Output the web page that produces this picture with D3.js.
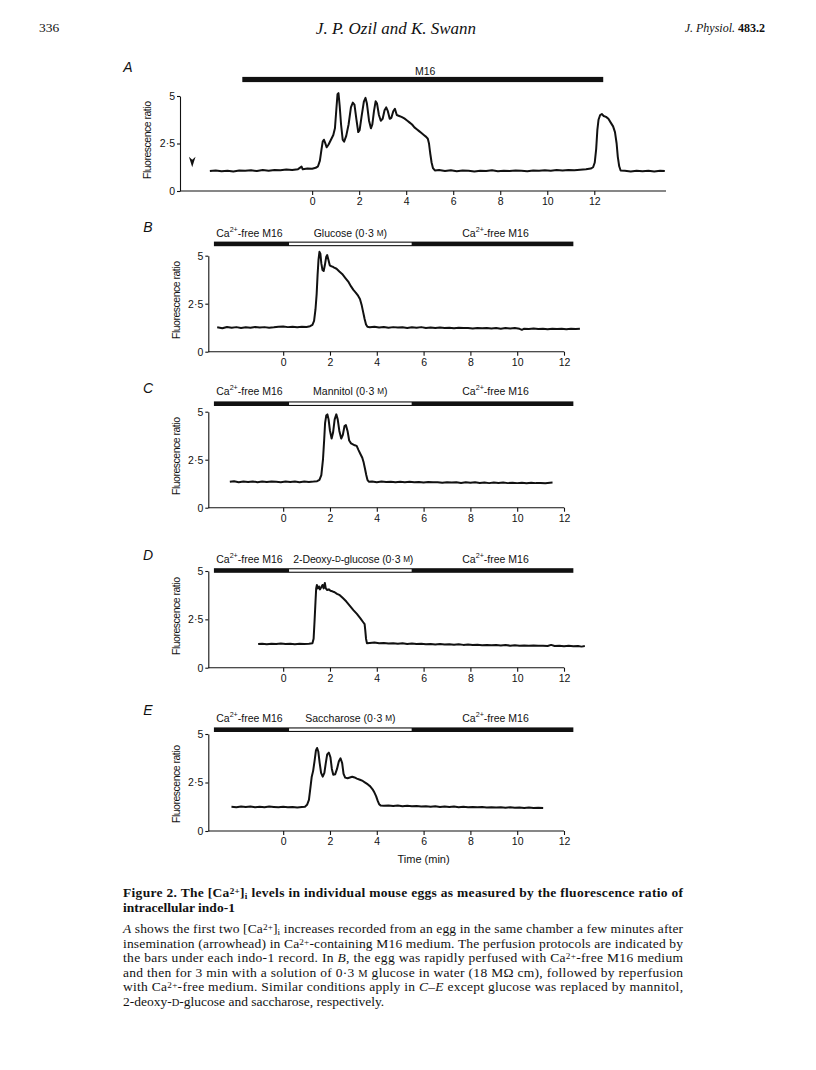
<!DOCTYPE html>
<html><head><meta charset="utf-8">
<script src="https://cdn.jsdelivr.net/npm/d3@7"></script>
<style>
body{margin:0;background:#fff;}
svg{display:block;}
</style></head><body>
<svg id="fig" width="816" height="1070"></svg>
<script>
// ---------------- data ----------------
const minuteTicks=[0,2,4,6,8,10,12];
const ratioTicks=[0,2.5,5];
const panelLetters=["A","B","C","D","E"];
const solutionNames=["Glucose","Mannitol","2-Deoxy-D-glucose","Saccharose"];
const barA=[-2.97,12.38];                 // M16 perfusion (min)
const barSegments=[-2.96,0.25,5.49,12.4]; // Ca-free | test solution | Ca-free (min)
const arrowheadA=[-5.1,1.25];             // insemination marker (min, ratio)

const traceA=[[-4.35,1.05],[-4.1,1.08],[-3.85,1.04],[-3.6,1.07],[-3.35,1.03],[-3.1,1.08],[-2.85,1.06],[-2.6,1.09],[-2.35,1.05],[-2.1,1.1],[-1.85,1.07],[-1.6,1.11],[-1.35,1.09],[-1.1,1.13],[-0.85,1.1],[-0.6,1.15],[-0.45,1.28],[-0.4,1.14],[-0.2,1.18],[0.0,1.17],[0.15,1.22],[0.25,1.3],[0.33,1.6],[0.4,2.2],[0.45,2.6],[0.5,2.7],[0.55,2.55],[0.62,2.3],[0.7,2.45],[0.8,2.7],[0.9,2.95],[0.97,3.3],[1.03,4.3],[1.08,5.1],[1.12,5.15],[1.17,4.5],[1.23,3.5],[1.3,2.7],[1.36,2.6],[1.45,2.9],[1.55,3.5],[1.65,4.4],[1.73,4.65],[1.8,4.55],[1.88,3.8],[1.96,3.1],[2.02,3.2],[2.1,3.9],[2.2,4.7],[2.27,4.9],[2.33,4.6],[2.42,3.7],[2.5,3.3],[2.56,3.5],[2.63,4.2],[2.7,4.72],[2.76,4.6],[2.84,4.0],[2.92,3.7],[3.0,3.8],[3.08,4.25],[3.15,4.4],[3.22,4.2],[3.3,3.8],[3.37,3.85],[3.45,4.2],[3.52,4.33],[3.6,4.0],[3.7,3.95],[3.8,3.9],[3.92,3.82],[4.05,3.7],[4.15,3.6],[4.25,3.5],[4.35,3.35],[4.45,3.25],[4.55,3.15],[4.65,3.05],[4.75,2.95],[4.85,2.85],[4.92,2.75],[4.97,2.5],[5.02,2.0],[5.08,1.5],[5.14,1.2],[5.22,1.08],[5.4,1.1],[5.65,1.05],[5.9,1.09],[6.15,1.04],[6.4,1.08],[6.65,1.06],[6.9,1.03],[7.15,1.07],[7.4,1.05],[7.65,1.09],[7.9,1.04],[8.15,1.07],[8.4,1.05],[8.65,1.08],[8.9,1.06],[9.15,1.04],[9.4,1.08],[9.65,1.06],[9.9,1.09],[10.15,1.07],[10.4,1.1],[10.65,1.08],[10.9,1.11],[11.15,1.09],[11.4,1.12],[11.65,1.14],[11.85,1.18],[11.95,1.25],[12.02,1.5],[12.08,2.2],[12.13,3.2],[12.18,3.75],[12.25,4.0],[12.32,4.05],[12.4,3.95],[12.5,3.9],[12.6,3.8],[12.7,3.6],[12.8,3.4],[12.88,3.1],[12.95,2.5],[13.0,1.8],[13.06,1.3],[13.12,1.08],[13.3,1.06],[13.55,1.03],[13.8,1.07],[14.05,1.04],[14.3,1.06],[14.55,1.03],[14.8,1.07],[15.0,1.05]];

const traceB=[[-2.82,1.27],[-2.6,1.22],[-2.4,1.29],[-2.2,1.25],[-2.0,1.28],[-1.8,1.24],[-1.6,1.27],[-1.4,1.25],[-1.2,1.29],[-1.0,1.26],[-0.8,1.28],[-0.6,1.25],[-0.4,1.27],[-0.2,1.3],[0.0,1.31],[0.2,1.28],[0.4,1.3],[0.6,1.27],[0.8,1.3],[1.0,1.29],[1.15,1.33],[1.25,1.4],[1.32,1.6],[1.38,2.2],[1.43,3.0],[1.47,4.0],[1.51,4.8],[1.55,5.2],[1.59,5.1],[1.63,4.6],[1.68,4.25],[1.73,4.2],[1.78,4.5],[1.84,4.95],[1.88,5.03],[1.93,4.8],[1.99,4.5],[2.05,4.45],[2.11,4.43],[2.18,4.38],[2.28,4.32],[2.4,4.18],[2.52,4.05],[2.65,3.85],[2.78,3.65],[2.9,3.4],[3.0,3.22],[3.1,3.08],[3.2,2.92],[3.28,2.75],[3.35,2.45],[3.42,2.05],[3.48,1.7],[3.54,1.42],[3.6,1.3],[3.7,1.27],[3.9,1.3],[4.1,1.26],[4.3,1.29],[4.5,1.25],[4.7,1.28],[4.9,1.26],[5.1,1.27],[5.3,1.24],[5.5,1.27],[5.7,1.25],[5.9,1.28],[6.1,1.24],[6.3,1.26],[6.5,1.23],[6.7,1.26],[6.9,1.24],[7.1,1.25],[7.3,1.22],[7.5,1.25],[7.7,1.23],[7.9,1.24],[8.1,1.21],[8.3,1.24],[8.5,1.22],[8.7,1.24],[8.9,1.21],[9.1,1.23],[9.3,1.2],[9.5,1.23],[9.7,1.21],[9.9,1.23],[10.1,1.19],[10.2,1.14],[10.3,1.2],[10.5,1.18],[10.7,1.21],[10.9,1.18],[11.1,1.2],[11.3,1.17],[11.5,1.2],[11.7,1.18],[11.9,1.19],[12.1,1.17],[12.3,1.2],[12.5,1.18],[12.68,1.2]];

const traceC=[[-2.28,1.35],[-2.1,1.38],[-1.9,1.33],[-1.7,1.36],[-1.5,1.34],[-1.3,1.37],[-1.1,1.33],[-0.9,1.36],[-0.7,1.34],[-0.5,1.37],[-0.3,1.35],[-0.1,1.33],[0.1,1.36],[0.3,1.34],[0.5,1.36],[0.7,1.33],[0.9,1.36],[1.1,1.34],[1.3,1.36],[1.45,1.38],[1.55,1.45],[1.63,1.7],[1.7,2.5],[1.75,3.5],[1.79,4.4],[1.84,4.8],[1.89,4.86],[1.94,4.6],[2.0,4.0],[2.07,3.6],[2.13,3.9],[2.2,4.6],[2.27,4.86],[2.33,4.6],[2.4,4.0],[2.48,3.6],[2.55,3.8],[2.62,4.25],[2.68,4.3],[2.75,4.0],[2.82,3.5],[2.9,3.35],[2.98,3.3],[3.06,3.25],[3.14,3.22],[3.22,3.0],[3.3,2.8],[3.38,2.6],[3.44,2.35],[3.5,2.0],[3.55,1.7],[3.6,1.45],[3.66,1.35],[3.8,1.37],[4.0,1.33],[4.2,1.36],[4.4,1.34],[4.6,1.35],[4.8,1.32],[5.0,1.35],[5.2,1.33],[5.4,1.35],[5.6,1.32],[5.8,1.34],[6.0,1.31],[6.2,1.34],[6.4,1.32],[6.6,1.33],[6.8,1.3],[7.0,1.33],[7.2,1.31],[7.4,1.32],[7.6,1.29],[7.8,1.32],[8.0,1.3],[8.2,1.32],[8.4,1.29],[8.6,1.31],[8.8,1.28],[9.0,1.31],[9.2,1.29],[9.4,1.31],[9.6,1.28],[9.8,1.3],[10.0,1.28],[10.2,1.3],[10.4,1.27],[10.6,1.3],[10.8,1.28],[11.0,1.29],[11.2,1.27],[11.4,1.3],[11.51,1.31]];

const traceD=[[-1.07,1.22],[-0.9,1.24],[-0.7,1.21],[-0.5,1.24],[-0.3,1.22],[-0.1,1.25],[0.1,1.22],[0.3,1.24],[0.5,1.21],[0.7,1.24],[0.9,1.22],[1.1,1.24],[1.25,1.26],[1.3,1.5],[1.34,2.4],[1.38,3.4],[1.41,4.1],[1.44,4.28],[1.48,4.1],[1.53,4.2],[1.57,4.05],[1.62,4.15],[1.68,4.28],[1.73,4.1],[1.78,4.38],[1.82,4.1],[1.88,4.02],[1.95,4.05],[2.02,3.98],[2.1,3.95],[2.2,3.9],[2.3,3.82],[2.42,3.75],[2.55,3.6],[2.7,3.42],[2.85,3.2],[3.0,2.98],[3.15,2.78],[3.3,2.55],[3.42,2.35],[3.48,2.25],[3.51,1.9],[3.54,1.5],[3.58,1.26],[3.7,1.28],[3.9,1.3],[4.1,1.26],[4.3,1.28],[4.5,1.25],[4.7,1.27],[4.9,1.24],[5.1,1.26],[5.3,1.23],[5.5,1.25],[5.7,1.22],[5.9,1.24],[6.1,1.21],[6.3,1.23],[6.5,1.2],[6.7,1.22],[6.9,1.2],[7.1,1.21],[7.3,1.19],[7.5,1.21],[7.7,1.18],[7.9,1.2],[8.1,1.17],[8.3,1.19],[8.5,1.16],[8.7,1.18],[8.9,1.16],[9.1,1.17],[9.3,1.15],[9.5,1.17],[9.7,1.14],[9.9,1.16],[10.1,1.14],[10.3,1.15],[10.5,1.13],[10.7,1.15],[10.9,1.13],[11.1,1.14],[11.3,1.12],[11.45,1.18],[11.6,1.12],[11.8,1.14],[12.0,1.11],[12.2,1.13],[12.4,1.11],[12.6,1.12],[12.75,1.09],[12.89,1.12]];

const traceE=[[-2.21,1.25],[-2.0,1.23],[-1.8,1.26],[-1.6,1.24],[-1.4,1.26],[-1.2,1.23],[-1.0,1.25],[-0.8,1.23],[-0.6,1.26],[-0.4,1.24],[-0.2,1.22],[0.0,1.25],[0.2,1.22],[0.4,1.24],[0.6,1.21],[0.8,1.24],[0.93,1.25],[1.02,1.35],[1.1,1.6],[1.16,2.2],[1.22,2.8],[1.28,3.1],[1.34,3.6],[1.4,4.15],[1.45,4.28],[1.5,4.1],[1.56,3.5],[1.62,3.0],[1.69,2.8],[1.76,3.0],[1.82,3.5],[1.88,3.95],[1.95,4.04],[2.02,3.8],[2.08,3.2],[2.14,2.9],[2.22,2.92],[2.3,3.2],[2.38,3.6],[2.45,3.75],[2.52,3.5],[2.58,2.95],[2.65,2.75],[2.75,2.72],[2.85,2.76],[2.95,2.8],[3.05,2.76],[3.15,2.7],[3.28,2.64],[3.4,2.58],[3.52,2.48],[3.62,2.4],[3.72,2.3],[3.82,2.15],[3.9,1.98],[3.97,1.8],[4.04,1.55],[4.1,1.38],[4.16,1.32],[4.3,1.3],[4.5,1.32],[4.7,1.29],[4.9,1.31],[5.1,1.28],[5.3,1.3],[5.5,1.27],[5.7,1.29],[5.9,1.26],[6.1,1.28],[6.3,1.25],[6.5,1.27],[6.7,1.24],[6.9,1.26],[7.1,1.24],[7.3,1.26],[7.5,1.23],[7.7,1.25],[7.9,1.23],[8.1,1.24],[8.3,1.22],[8.5,1.24],[8.7,1.21],[8.9,1.23],[9.1,1.21],[9.3,1.22],[9.5,1.2],[9.7,1.22],[9.9,1.2],[10.1,1.21],[10.3,1.19],[10.5,1.21],[10.7,1.18],[10.9,1.2],[11.11,1.19]];

// ---------------- drawing ----------------
const svg=d3.select("#fig");
const SANS="'Liberation Sans', Arial, Helvetica, sans-serif";
const SERIF="'Liberation Serif','Times New Roman',serif";
svg.append("rect").attr("width",816).attr("height",1070).attr("fill","#fff");

// rich text helper: parts = [{t, sup, sub, i, b, sc}]
function rich(g,x,y,parts,o){
  o=o||{};
  const t=g.append("text").attr("x",x).attr("y",y)
    .attr("font-family",o.family||SANS).attr("font-size",o.size||11)
    .attr("fill","#111");
  if(o.anchor) t.attr("text-anchor",o.anchor);
  if(o.bold) t.attr("font-weight","bold");
  if(o.italic) t.attr("font-style","italic");
  if(o.len) t.attr("textLength",o.len).attr("lengthAdjust","spacing");
  if(o.transform) t.attr("transform",o.transform);
  if(o.baseline) t.attr("dominant-baseline",o.baseline);
  parts.forEach(p=>{
    if(typeof p==="string") p={t:p};
    const s=t.append("tspan").text(p.t);
    if(p.sup) s.attr("baseline-shift","38%").attr("font-size","68%");
    if(p.sub) s.attr("baseline-shift","-22%").attr("font-size","68%");
    if(p.sc) s.attr("font-size","78%");
    if(p.i) s.attr("font-style","italic");
    if(p.b) s.attr("font-weight","bold");
  });
  return t;
}
const fmtRatio=d=>d===2.5?"2·5":String(d);

const panels=[
 {data:traceA, xd:[-5.62,15.05], xr:[180,666], yr:[191,96], bar:79.5, lab:71, letter:[128,67], ylab:[150.5,140]},
 {data:traceB, xd:[-3.2,12], xr:[208.3,564], yr:[351.7,255.7], bar:243.9, lab:233.3, letter:[148,227], ylab:[179.5,300], sol:0},
 {data:traceC, xd:[-3.2,12], xr:[208.3,564], yr:[507.7,411.7], bar:403.7, lab:391, letter:[148,388], ylab:[179.5,456], sol:1},
 {data:traceD, xd:[-3.2,12], xr:[208.3,564], yr:[667.7,571], bar:570.5, lab:559, letter:[148,555], ylab:[179.5,616], sol:2},
 {data:traceE, xd:[-3.2,12], xr:[208.3,564], yr:[831,734], bar:729.7, lab:718.3, letter:[148,710], ylab:[179.5,784], sol:3}
];

panels.forEach((p,i)=>{
  const g=svg.append("g");
  const x=d3.scaleLinear().domain(p.xd).range(p.xr);
  const y=d3.scaleLinear().domain([0,5]).range(p.yr);

  // axes
  const ax=g.append("g").attr("transform",`translate(0,${p.yr[0]})`)
    .call(d3.axisBottom(x).tickValues(minuteTicks).tickSize(4).tickSizeOuter(0).tickPadding(3).tickFormat(d=>d));
  const ay=g.append("g").attr("transform",`translate(${p.xr[0]},0)`)
    .call(d3.axisLeft(y).tickValues(ratioTicks).tickSize(3).tickSizeOuter(0).tickPadding(2).tickFormat(fmtRatio));
  [ax,ay].forEach(a=>{
    a.attr("font-family",SANS).attr("font-size",10.5);
    a.selectAll("path,line").attr("stroke","#111").attr("stroke-width",1.1);
    a.selectAll("text").attr("fill","#111");
  });
  ax.select(".domain").attr("d",`M${p.xr[0]},0H${p.xr[1]}`);

  // y label
  rich(g,p.ylab[0],p.ylab[1],["Fluorescence ratio"],{size:10.5,anchor:"middle",len:78,
    transform:`rotate(-90,${p.ylab[0]},${p.ylab[1]})`});

  // panel letter
  rich(g,p.letter[0],p.letter[1],[panelLetters[i]],{size:14,italic:true,anchor:"middle",baseline:"central"});

  // perfusion bars
  if(i===0){
    g.append("rect").attr("x",x(barA[0])).attr("width",x(barA[1])-x(barA[0]))
      .attr("y",p.bar-2.6).attr("height",5.2).attr("fill","#111");
    rich(g,x((barA[0]+barA[1])/2+0.1),p.lab,["M16"],{size:10.5,anchor:"middle",baseline:"central"});
    // arrowhead
    const ax0=x(arrowheadA[0]), ay0=y(arrowheadA[1]);
    g.append("path").attr("d",`M${ax0-3.3},${ay0-10.5}L${ax0},${ay0-7.5}L${ax0+3.3},${ay0-10.5}L${ax0},${ay0}Z`).attr("fill","#111");
  } else {
    const b=barSegments;
    g.append("rect").attr("x",x(b[0])).attr("width",x(b[3])-x(b[0]))
      .attr("y",p.bar-2.3).attr("height",4.6).attr("fill","#111");
    g.append("rect").attr("x",x(b[1])).attr("width",x(b[2])-x(b[1]))
      .attr("y",p.bar-1.2).attr("height",2.4).attr("fill","#fff");
    const caFree=["Ca",{t:"2+",sup:true},"-free M16"];
    rich(g,x((b[0]+b[1])/2)-2,p.lab,caFree,{size:10.5,anchor:"middle",baseline:"central"});
    rich(g,x((b[2]+b[3])/2)+3,p.lab,caFree,{size:10.5,anchor:"middle",baseline:"central"});
    let mid;
    const name=solutionNames[p.sol];
    if(name==="2-Deoxy-D-glucose") mid=["2-Deoxy-",{t:"D",sc:true},"-glucose (0·3 ",{t:"M",sc:true},")"];
    else mid=[name+" (0·3 ",{t:"M",sc:true},")"];
    rich(g,x((b[1]+b[2])/2)+(p.sol===2?3:0),p.lab,mid,{size:10.5,anchor:"middle",baseline:"central",len:p.sol===2?120:null});
  }

  // trace
  g.append("path").datum(p.data)
    .attr("d",d3.line().x(d=>x(d[0])).y(d=>y(d[1])))
    .attr("fill","none").attr("stroke","#111").attr("stroke-width",2)
    .attr("stroke-linejoin","round");

  if(i===4){
    rich(g,x(6),859,["Time (min)"],{size:11,anchor:"middle",baseline:"central"});
  }
});

// ---------------- page header ----------------
rich(svg,39,32,["336"],{family:SERIF,size:13.5});
rich(svg,396,34,["J. P. Ozil and K. Swann"],{family:SERIF,size:17,italic:true,anchor:"middle"});
rich(svg,765,32,[{t:"J. Physiol. ",i:true},{t:"483.2",b:true}],{family:SERIF,size:12,anchor:"end"});

// ---------------- caption ----------------
const capL=123, capW=560;
const capSize=13.5;
rich(svg,capL,897,["Figure 2. The [Ca",{t:"2+",sup:true},"]",{t:"i",sub:true}," levels in individual mouse eggs as measured by the fluorescence ratio of"],
  {family:SERIF,size:capSize,bold:true,len:capW});
rich(svg,capL,912,["intracellular indo-1"],{family:SERIF,size:capSize,bold:true});
const body=[
 [{t:"A",i:true}," shows the first two [Ca",{t:"2+",sup:true},"]",{t:"i",sub:true}," increases recorded from an egg in the same chamber a few minutes after"],
 ["insemination (arrowhead) in Ca",{t:"2+",sup:true},"-containing M16 medium. The perfusion protocols are indicated by"],
 ["the bars under each indo-1 record. In ",{t:"B",i:true},", the egg was rapidly perfused with Ca",{t:"2+",sup:true},"-free M16 medium"],
 ["and then for 3 min with a solution of 0·3 ",{t:"M",sc:true}," glucose in water (18 MΩ cm), followed by reperfusion"],
 ["with Ca",{t:"2+",sup:true},"-free medium. Similar conditions apply in ",{t:"C–E",i:true}," except glucose was replaced by mannitol,"],
 ["2-deoxy-",{t:"D",sc:true},"-glucose and saccharose, respectively."]
];
body.forEach((parts,k)=>{
  rich(svg,capL,933+k*14.5,parts,{family:SERIF,size:capSize,len:k<5?capW:null});
});
</script>
</body></html>
